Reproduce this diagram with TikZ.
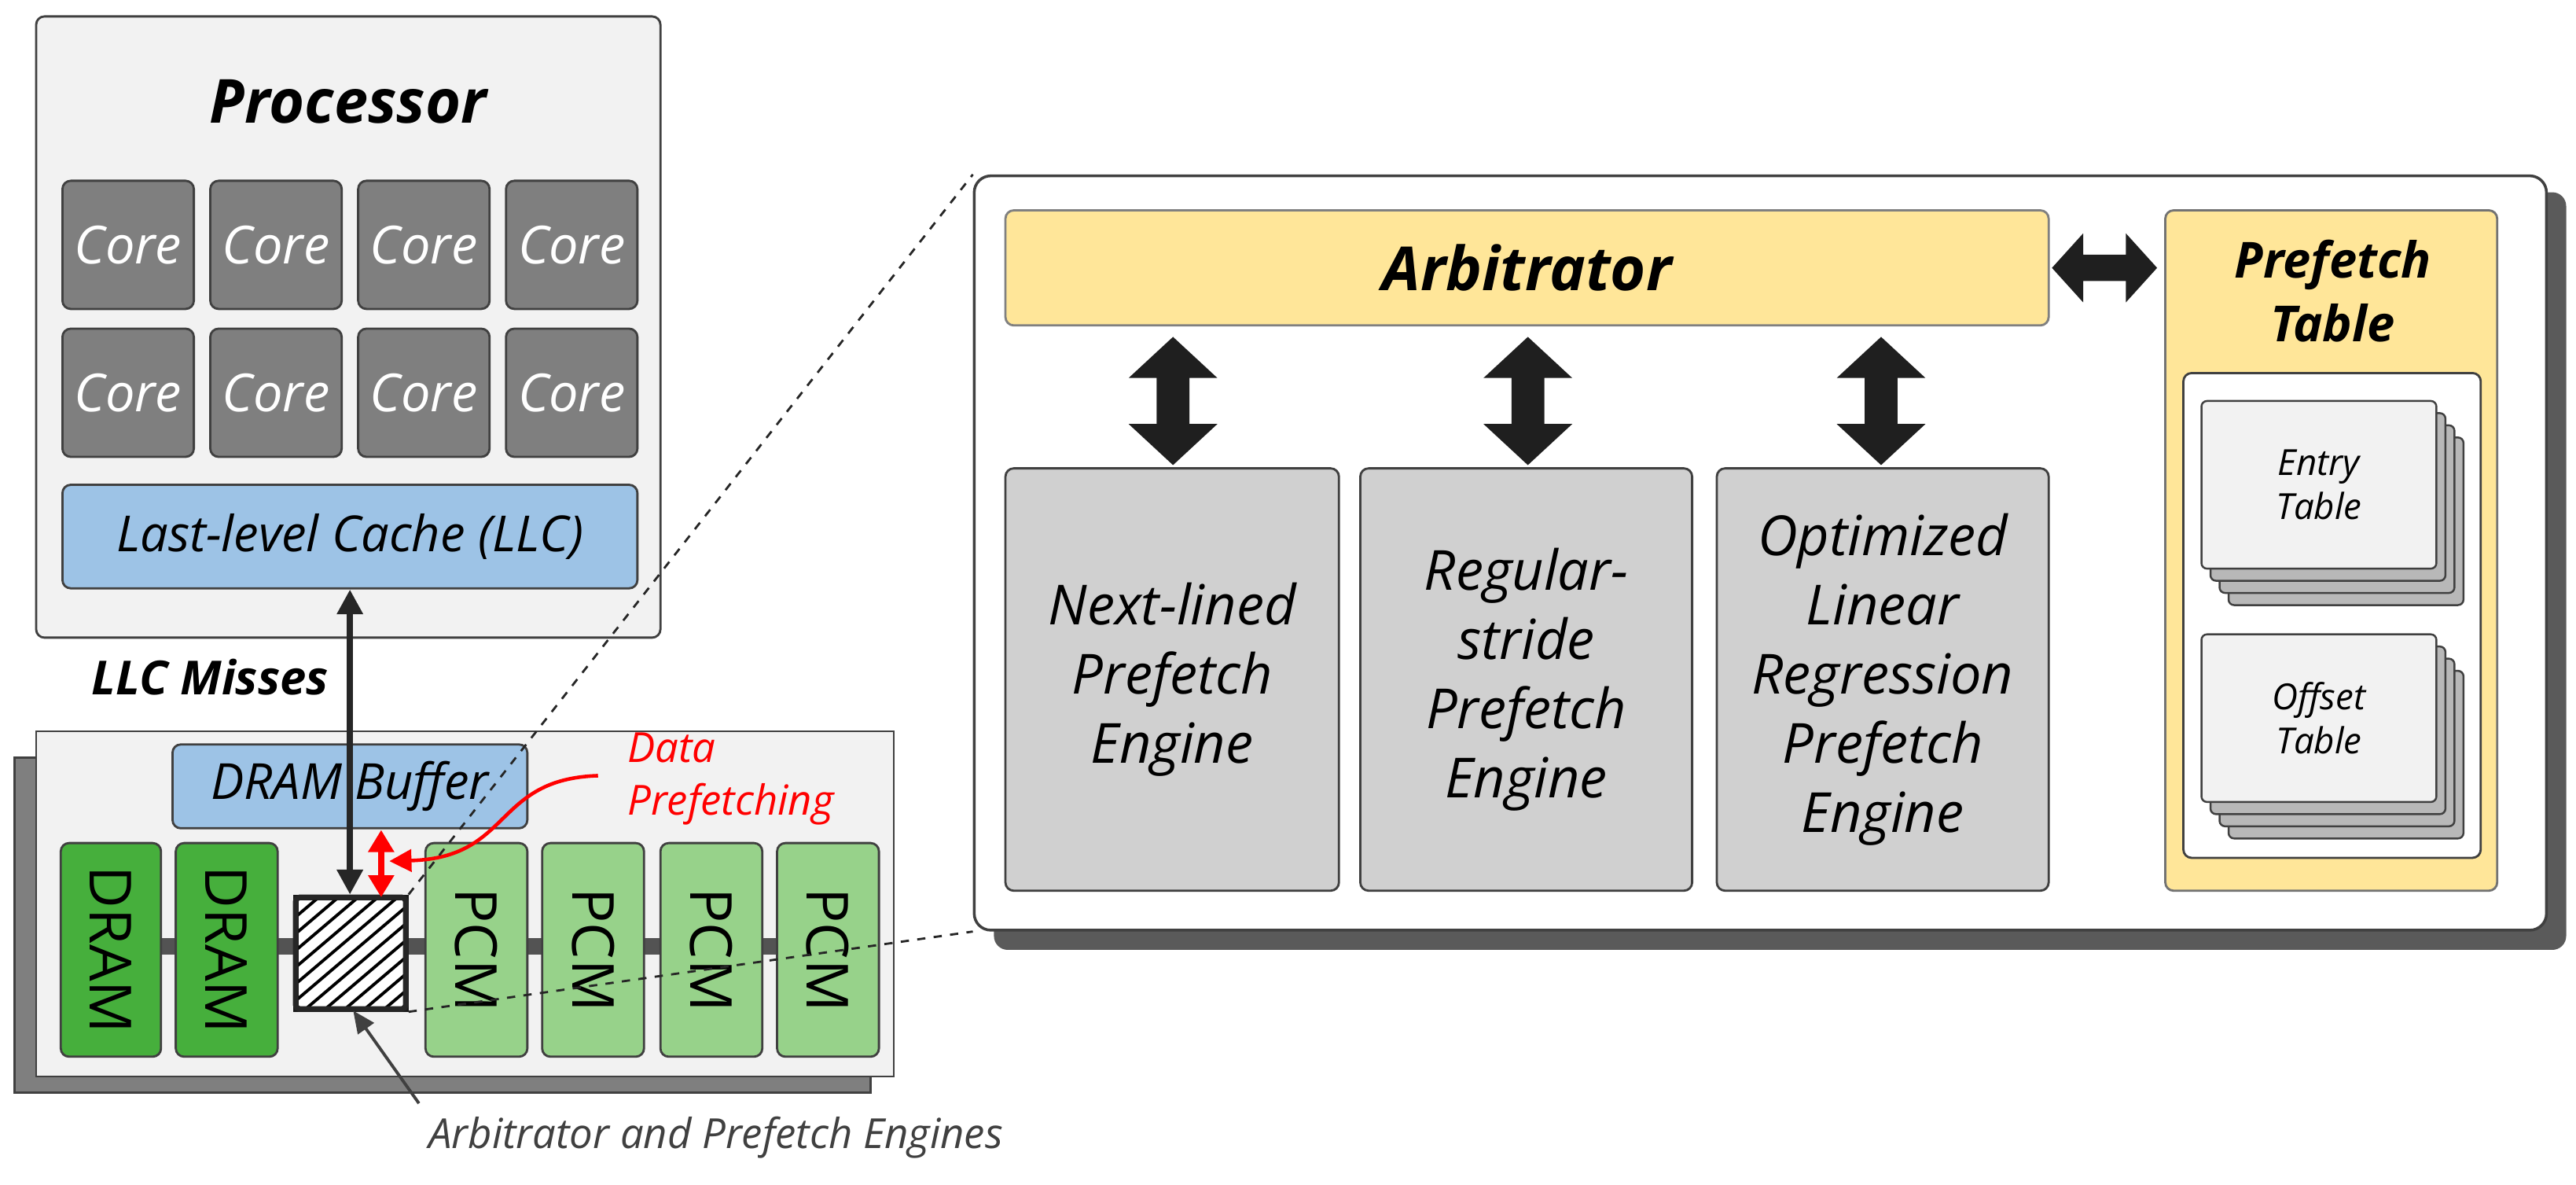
\documentclass[tikz,border=0pt]{standalone}
\usepackage{fontspec}
\setmainfont{Open Sans}
\usetikzlibrary{fit,arrows.meta,calc}
\definecolor{bord}{HTML}{404040}
\definecolor{proc}{HTML}{F2F2F2}
\definecolor{coreg}{HTML}{7F7F7F}
\definecolor{llcb}{HTML}{9DC3E6}
\definecolor{yel}{HTML}{FFE699}
\definecolor{eng}{HTML}{D0D0D0}
\definecolor{dgreen}{HTML}{46AF3C}
\definecolor{lgreen}{HTML}{97D28A}
\definecolor{shad}{HTML}{5A5A5A}
\definecolor{redc}{HTML}{FF0000}
\begin{document}
\begin{tikzpicture}[x=0.0209cm,y=-0.0209cm,
  box/.style={draw=bord,line width=0.8pt,rounded corners=3pt,inner sep=0pt},
  core/.style={box,fill=coreg},
  eng/.style={box,fill=eng},
  dram/.style={box,fill=dgreen},
  pcm/.style={box,fill=lgreen},
  tab/.style={draw=bord,line width=0.7pt,rounded corners=2pt,inner sep=0pt},
  barr/.style={fill=black!88},
  etxt/.style={font=\fontsize{20}{25}\selectfont\itshape,align=center},
]
\useasboundingbox (0,0) rectangle (1568,721);
% Processor
\node[box,fill=proc,fit={(22,10)(402,388)}] (proc) {};
\node[font=\fontsize{22}{26}\selectfont\bfseries\itshape] (ptitle) at (212,62) {Processor};
\foreach \c/\x in {1/38,2/128,3/218,4/308}{
  \node[core,fit={(\x,110)(\x+80,188)}] (c1\c) {};
  \node[text=white,font=\fontsize{19}{22}\selectfont\itshape] at (c1\c) {Core};
  \node[core,fit={(\x,200)(\x+80,278)}] (c2\c) {};
  \node[text=white,font=\fontsize{19}{22}\selectfont\itshape] at (c2\c) {Core};
}
\node[box,fill=llcb,fit={(38,295)(388,358)}] (llc) {};
\node[font=\fontsize{18}{22}\selectfont\itshape] at (llc) {Last-level Cache (LLC)};
\node[font=\fontsize{17}{20}\selectfont\bfseries\itshape] (miss) at (128,412) {LLC Misses};
% Memory module
\node[fill=coreg,draw=bord,line width=0.8pt,inner sep=0pt,fit={(9,461)(530,665)}] (msh) {};
\node[fill=proc,draw=bord,line width=0.8pt,inner sep=0pt,fit={(22,445)(544,655)}] (mem) {};
\node[box,fill=llcb,fit={(105,453)(321,504)}] (buf) {};
\node[font=\fontsize{18}{22}\selectfont\itshape] at (buf) {DRAM Buffer};
\draw[bord!90,line width=6pt] (98,576) -- (474,576);
\node[dram,fit={(37,513)(98,643)}] (d1) {};
\node[dram,fit={(107,513)(169,643)}] (d2) {};
\foreach \n in {d1,d2}{\node[rotate=-90,font=\fontsize{21}{22}\selectfont] at (\n) {DRAM};}
\foreach \n/\x in {p1/259,p2/330,p3/402,p4/473}{
  \node[pcm,fit={(\x,513)(\x+62,643)}] (\n) {};
  \node[rotate=-90,font=\fontsize{21}{22}\selectfont] at (\n) {PCM};
}
% hatched box
\node[draw=black!90,line width=2pt,fill=white,inner sep=0pt,fit={(180,546)(247,614)}] (hatch) {};
\begin{scope}
\clip (180,546) rectangle (247,614);
\foreach \i in {-90,-78,...,80}{\draw[line width=1.1pt] (180+\i,614) -- (260+\i,546);}
\end{scope}
\draw[line width=2pt,black!85,rounded corners=1.5pt] (180,546) rectangle (247,614);
% arrows
\draw[{Triangle[length=9pt,width=9pt]}-{Triangle[length=9pt,width=9pt]},line width=2.3pt,black!85] (llc.south -| 213,0) -- (hatch.north -| 213,0);
\draw[{Triangle[length=8pt,width=9pt]}-{Triangle[length=8pt,width=9pt]},line width=2.3pt,redc] (232,505) -- (232,546);
\coordinate (dpa) at (364,472);
\draw[-{Triangle[length=8pt,width=8pt]},line width=1.3pt,redc] (dpa) .. controls (300,474) and (312,522) .. (237,524);
\node[text=redc,font=\fontsize{15}{19}\selectfont\itshape,align=left,anchor=west] (dp) at (376,474) {Data\\Prefetching};
\node[text=bord,font=\fontsize{15}{18}\selectfont\itshape,anchor=west] (ape) at (255,692) {Arbitrator and Prefetch Engines};
\draw[-{Triangle[length=8pt,width=7pt]},line width=1.1pt,bord] (ape.north west) ++(0,-2) -- (215,615);
% Right panel
\fill[shad,rounded corners=5pt] (605,117) rectangle (1562,578);
\node[draw=bord,line width=1pt,fill=white,rounded corners=6pt,inner sep=0pt,fit={(593,107)(1550,566)}] (panel) {};
\draw[dashed,line width=0.8pt,black!85] (hatch.north east) -- (panel.north west);
\draw[dashed,line width=0.8pt,black!85] (hatch.south east) -- (panel.south west);
\node[box,draw=black!50,fill=yel,fit={(612,128)(1247,198)}] (arb) {};
\node[font=\fontsize{22}{26}\selectfont\bfseries\itshape] at (arb) {Arbitrator};
\node[eng,fit={(612,285)(815,542)}] (e1) {};
\node[eng,fit={(828,285)(1030,542)}] (e2) {};
\node[eng,fit={(1045,285)(1247,542)}] (e3) {};
\node[etxt] at (e1) {Next-lined\\Prefetch\\Engine};
\node[etxt] at (e2) {Regular-\\stride\\Prefetch\\Engine};
\node[etxt] at (e3) {Optimized\\Linear\\Regression\\Prefetch\\Engine};
\foreach \x in {714,930,1145}{
  \fill[barr] (\x,205) -- (\x+27,230) -- (\x+10,230) -- (\x+10,258) -- (\x+27,258) -- (\x,283) -- (\x-27,258) -- (\x-10,258) -- (\x-10,230) -- (\x-27,230) -- cycle;
}
\fill[barr] (1249,163) -- (1268,142) -- (1268,155) -- (1294,155) -- (1294,142) -- (1313,163) -- (1294,184) -- (1294,171) -- (1268,171) -- (1268,184) -- cycle;
% Prefetch table
\node[box,draw=black!55,fill=yel,fit={(1318,128)(1520,542)}] (pt) {};
\node[font=\fontsize{18}{23}\selectfont\bfseries\itshape,align=center] at (1420,177) {Prefetch\\Table};
\node[box,draw=bord,fill=white,fit={(1329,227)(1510,522)}] (inner) {};
\foreach \y/\t/\nm in {244/Entry/ent,386/Offset/off}{
  \foreach \k in {3,2,1}{
    \draw[tab,fill=black!28] (1340+5.5*\k,\y+7.4*\k) rectangle (1483+5.5*\k,\y+102+7.4*\k);
  }
  \node[tab,fill=proc,fit={(1340,\y)(1483,\y+102)}] (\nm) {};
  \node[font=\fontsize{13}{16}\selectfont\itshape,align=center] at (\nm) {\t\\Table};
}
\end{tikzpicture}
\end{document}
